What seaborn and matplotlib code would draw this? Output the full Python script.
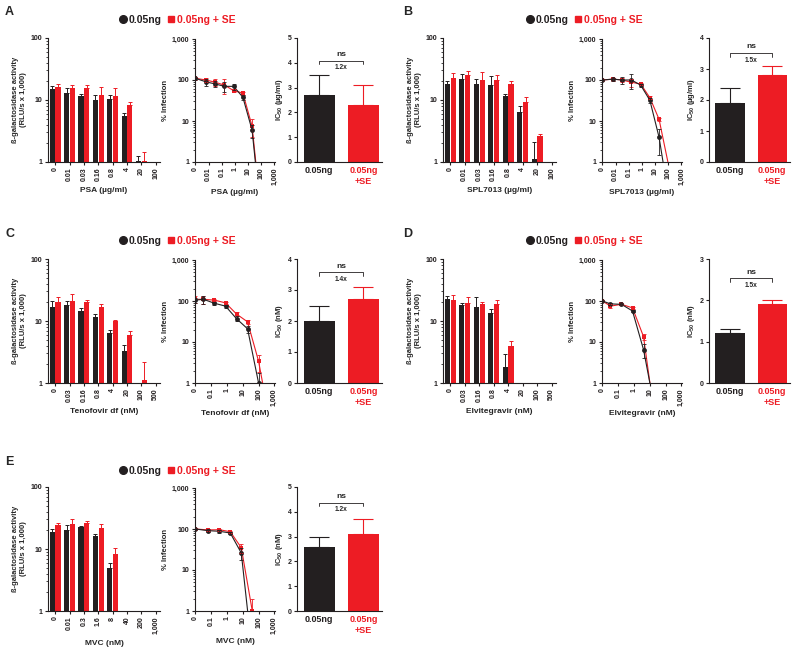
# HIV inhibitor dose-response with / without SE (5 drugs)

import numpy as np
import pandas as pd
import seaborn as sns
import matplotlib.pyplot as plt
from matplotlib.lines import Line2D
from matplotlib.ticker import LogLocator, NullFormatter

nan = np.nan
BLACK = '#231f20'
RED = '#ed1c24'
GROUPS = ['0.05ng', '0.05ng + SE']

# ---- A: PSA ----
psa_cats = ['0', '0.01', '0.03', '0.16', '0.8', '4', '20', '100']
psa_rlu_blk = [15, 13, 11.5, 10, 10.5, 5.5, 1.02, nan]
psa_rlu_blk_err = [2, 2.5, 1, 2, 1.5, 0.6, 0.23, nan]
psa_rlu_red = [16, 15.5, 15.5, 12, 11.5, 8.2, 1.05, nan]
psa_rlu_red_err = [2, 2, 2, 4.5, 4, 1.1, 0.4, nan]
psa_doses = [0, 0.0064, 0.032, 0.16, 0.8, 4, 20, 100]
psa_inf_blk = [110, 90, 80, 70, 70, 38, 6, 0.04]
psa_inf_blk_err = [10, 18, 12, 18, 12, 5, 2.2, 0]
psa_inf_red = [110, 100, 88, 75, 55, 48, 7.5, 0.05]
psa_inf_red_err = [8, 10, 15, 30, 5, 4, 3.5, 0]
psa_ic50 = [2.7, 2.3]
psa_ic50_err = [0.8, 0.8]

# ---- B: SPL7013 ----
spl_cats = ['0', '0.01', '0.03', '0.16', '0.8', '4', '20', '100']
spl_rlu_blk = [18, 22, 18, 17.5, 11.5, 6.3, 1.1, nan]
spl_rlu_blk_err = [2, 4, 4, 7, 1, 1.7, 1.0, nan]
spl_rlu_red = [23, 25, 21, 21, 18, 9.3, 2.6, nan]
spl_rlu_red_err = [4, 4, 7, 4, 2, 1.7, 0.2, nan]
spl_doses = [0, 0.0064, 0.032, 0.16, 0.8, 4, 20, 100]
spl_inf_blk = [100, 105, 100, 100, 75, 32, 4, 0.16]
spl_inf_blk_err = [8, 10, 20, 40, 6, 5, 2.5, 0]
spl_inf_red = [100, 105, 100, 88, 80, 37, 11, 0.9]
spl_inf_red_err = [6, 8, 12, 20, 5, 3, 1, 0]
spl_ic50 = [1.9, 2.8]
spl_ic50_err = [0.5, 0.3]

# ---- C: Tenofovir df ----
tdf_cats = ['0', '0.03', '0.16', '0.8', '4', '20', '100', '500']
tdf_rlu_blk = [17, 18, 14.5, 11.5, 6.3, 3.3, nan, nan]
tdf_rlu_blk_err = [4, 3, 1.5, 1.5, 0.9, 0.8, nan, nan]
tdf_rlu_red = [20, 21, 20.5, 17, 10, 6, 1.1, nan]
tdf_rlu_red_err = [4, 6, 1, 2, 0.5, 0.8, 1.1, nan]
tdf_doses = [0, 0.032, 0.16, 0.8, 4, 20, 100, 500]
tdf_inf_blk = [105, 110, 88, 75, 37, 21, 1.0, 0.05]
tdf_inf_blk_err = [15, 25, 8, 6, 5, 4, 0.8, 0]
tdf_inf_red = [110, 110, 105, 90, 48, 31, 3.4, 0.12]
tdf_inf_red_err = [20, 25, 6, 6, 5, 4, 1.5, 0]
tdf_ic50 = [2.0, 2.7]
tdf_ic50_err = [0.5, 0.4]

# ---- D: Elvitegravir ----
evg_cats = ['0', '0.03', '0.16', '0.8', '4', '20', '100', '500']
evg_rlu_blk = [23, 18, 17, 13.5, 1.8, nan, nan, nan]
evg_rlu_blk_err = [2, 1.5, 7, 2, 1.1, nan, nan, nan]
evg_rlu_red = [22, 19.5, 19, 18.5, 4, nan, nan, nan]
evg_rlu_red_err = [4, 4.5, 1, 3.5, 0.7, nan, nan, nan]
evg_doses = [0, 0.032, 0.16, 0.8, 4, 20, 100, 500]
evg_inf_blk = [100, 85, 83, 57, 6.5, 0.25, nan, nan]
evg_inf_blk_err = [5, 5, 4, 4, 2.5, 0, nan, nan]
evg_inf_red = [100, 75, 83, 68, 13.5, 0.15, nan, nan]
evg_inf_red_err = [5, 8, 5, 5, 2, 0, nan, nan]
evg_ic50 = [1.2, 1.9]
evg_ic50_err = [0.1, 0.1]

# ---- E: MVC ----
mvc_cats = ['0', '0.01', '0.3', '1.6', '8', '40', '200', '1,000']
mvc_rlu_blk = [19, 20, 22.5, 16, 5, nan, nan, nan]
mvc_rlu_blk_err = [2, 4, 1, 1.5, 1, nan, nan, nan]
mvc_rlu_red = [24, 25, 26, 22, 8.2, nan, nan, nan]
mvc_rlu_red_err = [2, 6, 2.5, 3, 2.3, nan, nan, nan]
mvc_doses = [0, 0.064, 0.32, 1.6, 8, 40, 200, 1000]
mvc_inf_blk = [100, 91, 88, 80, 26, 0.09, nan, nan]
mvc_inf_blk_err = [5, 8, 6, 5, 8, 0, nan, nan]
mvc_inf_red = [100, 95, 96, 86, 35, 1.0, nan, nan]
mvc_inf_red_err = [5, 6, 6, 5, 9, 1.0, nan, nan]
mvc_ic50 = [2.6, 3.1]
mvc_ic50_err = [0.4, 0.6]

ic50_labels = ['0.05ng', '0.05ng\n+SE']

# スタイル
sns.set_style('ticks')
plt.rcParams['font.family'] = ['Liberation Sans', 'DejaVu Sans']
plt.rcParams['font.weight'] = 'bold'
plt.rcParams['axes.labelweight'] = 'bold'
plt.rcParams['mathtext.fontset'] = 'custom'
plt.rcParams['mathtext.rm'] = 'Liberation Sans:bold'
plt.rcParams['mathtext.bf'] = 'Liberation Sans:bold'
plt.rcParams['axes.linewidth'] = 0.8
plt.rcParams['axes.edgecolor'] = BLACK

W, H = 800, 650
fig = plt.figure(figsize=(8, 6.5), dpi=100)


def px_axes(x, y, w, h):
    return fig.add_axes([x / W, 1 - (y + h) / H, w / W, h / H])


def style_ticks(ax, size=5):
    ax.tick_params(axis='both', which='major', length=2.5, width=0.8, labelsize=size, pad=1.5, colors=BLACK)
    ax.tick_params(axis='both', which='minor', length=1.5, width=0.6)
    sns.despine(ax=ax)


def draw_bars(ax, cats, blk, blk_err, red, red_err, xlabel):
    n = len(cats)
    df = pd.DataFrame({'dose': cats * 2,
                       'group': [GROUPS[0]] * n + [GROUPS[1]] * n,
                       'rlu': blk + red})
    sns.barplot(data=df, x='dose', y='rlu', hue='group', order=cats, hue_order=GROUPS,
                palette=[BLACK, RED], saturation=1, width=0.8, gap=0.1,
                errorbar=None, legend=False, linewidth=0, ax=ax)
    errs = [blk_err, red_err]
    for cont, err, col in zip(ax.containers, errs, [BLACK, RED]):
        for bar in cont:
            h = bar.get_height()
            if np.isnan(h):
                continue
            cx = bar.get_x() + bar.get_width() / 2
            i = int(round(cx))
            ax.errorbar(cx, h, yerr=[[0], [err[i]]], fmt='none', ecolor=col,
                        elinewidth=0.7, capsize=1.2, capthick=0.7)
    ax.set_yscale('log')
    ax.set_ylim(1, 100)
    ax.set_yticks([1, 10, 100])
    ax.set_yticklabels(['1', '10', '100'])
    ax.yaxis.set_minor_locator(LogLocator(subs=np.arange(2, 10)))
    ax.yaxis.set_minor_formatter(NullFormatter())
    ax.set_xlim(-0.5, 7.3)
    ax.set_xticks(range(n))
    ax.set_xticklabels(cats, rotation=90)
    ax.set_xlabel(xlabel, fontsize=6, labelpad=4)
    ax.set_ylabel('ß-galactosidase activity\n(RLU/s x 1,000)', fontsize=5.5, labelpad=3)
    style_ticks(ax)


def draw_curve(ax, doses, zero_pos, blk, blk_err, red, red_err, xticks, xlabels, xlabel):
    xs = [zero_pos if d == 0 else d for d in doses]
    n = len(xs)
    df = pd.DataFrame({'dose': xs * 2,
                       'group': [GROUPS[0]] * n + [GROUPS[1]] * n,
                       'inf': blk + red})
    sns.lineplot(data=df, x='dose', y='inf', hue='group', style='group',
                 hue_order=[GROUPS[1], GROUPS[0]],
                 palette={GROUPS[0]: BLACK, GROUPS[1]: RED},
                 markers={GROUPS[0]: 'o', GROUPS[1]: 's'}, dashes=False,
                 markersize=3.5, markeredgewidth=0, linewidth=0.8,
                 errorbar=None, legend=False, ax=ax)
    for vals, err, col in [(red, red_err, RED), (blk, blk_err, BLACK)]:
        ax.errorbar(xs, vals, yerr=err, fmt='none', ecolor=col,
                    elinewidth=0.6, capsize=1.3, capthick=0.6)
    ax.set_xscale('log')
    ax.set_yscale('log')
    ax.set_xlim(zero_pos * 0.93, 1100)
    ax.set_ylim(1, 1000)
    ax.set_xticks(xticks)
    ax.set_xticklabels(xlabels, rotation=90)
    ax.xaxis.set_minor_locator(LogLocator(subs=np.arange(2, 10)))
    ax.xaxis.set_minor_formatter(NullFormatter())
    ax.set_yticks([1, 10, 100, 1000])
    ax.set_yticklabels(['1', '10', '100', '1,000'])
    ax.yaxis.set_minor_formatter(NullFormatter())
    ax.set_xlabel(xlabel, fontsize=6, labelpad=3)
    ax.set_ylabel('% Infection', fontsize=5.5, labelpad=2)
    style_ticks(ax)


def draw_ic50(ax, vals, errs, ymax, unit, fold, bracket_y):
    sns.barplot(x=ic50_labels, y=vals, hue=ic50_labels, palette=[BLACK, RED],
                saturation=1, width=0.7, linewidth=0, legend=False, ax=ax)
    for i, (v, e, c) in enumerate(zip(vals, errs, [BLACK, RED])):
        ax.errorbar(i, v, yerr=[[0], [e]], fmt='none', ecolor=c,
                    elinewidth=0.8, capsize=7, capthick=0.8)
    ax.set_ylim(0, ymax)
    ax.set_yticks(range(ymax + 1))
    ax.set_xlim(-0.5, 1.42)
    ax.set_ylabel('IC$_{50}$ (' + unit + ')', fontsize=5.5, labelpad=2)
    style_ticks(ax)
    ax.tick_params(axis='x', labelsize=6.5, length=0, pad=3)
    ax.get_xticklabels()[1].set_color(RED)
    d = ymax * 0.03
    ax.plot([0, 0, 1, 1], [bracket_y - d, bracket_y, bracket_y, bracket_y - d],
            color=BLACK, lw=0.6)
    ax.text(0.5, bracket_y + ymax * 0.02, 'ns', ha='center', va='bottom', fontsize=6)
    ax.text(0.5, bracket_y - ymax * 0.03, fold, ha='center', va='top', fontsize=4.8)


ticks_a = [0.001, 0.01, 0.1, 1, 10, 100, 1000]
labels_a = ['0', '0.01', '0.1', '1', '10', '100', '1,000']
ticks_c = [0.01, 0.1, 1, 10, 100, 1000]
labels_c = ['0', '0.1', '1', '10', '100', '1,000']

panels = [
    dict(letter='A', col=0, row=0, cats=psa_cats,
         rlu=(psa_rlu_blk, psa_rlu_blk_err, psa_rlu_red, psa_rlu_red_err),
         doses=psa_doses, zero=0.001,
         inf=(psa_inf_blk, psa_inf_blk_err, psa_inf_red, psa_inf_red_err),
         ticks=(ticks_a, labels_a), xlabel='PSA (µg/ml)',
         ic=(psa_ic50, psa_ic50_err), ymax=5, unit='µg/ml', fold='1.2x', by=4.09),
    dict(letter='B', col=1, row=0, cats=spl_cats,
         rlu=(spl_rlu_blk, spl_rlu_blk_err, spl_rlu_red, spl_rlu_red_err),
         doses=spl_doses, zero=0.001,
         inf=(spl_inf_blk, spl_inf_blk_err, spl_inf_red, spl_inf_red_err),
         ticks=(ticks_a, labels_a), xlabel='SPL7013 (µg/ml)',
         ic=(spl_ic50, spl_ic50_err), ymax=4, unit='µg/ml', fold='1.5x', by=3.52),
    dict(letter='C', col=0, row=1, cats=tdf_cats,
         rlu=(tdf_rlu_blk, tdf_rlu_blk_err, tdf_rlu_red, tdf_rlu_red_err),
         doses=tdf_doses, zero=0.01,
         inf=(tdf_inf_blk, tdf_inf_blk_err, tdf_inf_red, tdf_inf_red_err),
         ticks=(ticks_c, labels_c), xlabel='Tenofovir df (nM)',
         ic=(tdf_ic50, tdf_ic50_err), ymax=4, unit='nM', fold='1.4x', by=3.57),
    dict(letter='D', col=1, row=1, cats=evg_cats,
         rlu=(evg_rlu_blk, evg_rlu_blk_err, evg_rlu_red, evg_rlu_red_err),
         doses=evg_doses, zero=0.01,
         inf=(evg_inf_blk, evg_inf_blk_err, evg_inf_red, evg_inf_red_err),
         ticks=(ticks_c, labels_c), xlabel='Elvitegravir (nM)',
         ic=(evg_ic50, evg_ic50_err), ymax=3, unit='nM', fold='1.5x', by=2.53),
    dict(letter='E', col=0, row=2, cats=mvc_cats,
         rlu=(mvc_rlu_blk, mvc_rlu_blk_err, mvc_rlu_red, mvc_rlu_red_err),
         doses=mvc_doses, zero=0.01,
         inf=(mvc_inf_blk, mvc_inf_blk_err, mvc_inf_red, mvc_inf_red_err),
         ticks=(ticks_c, labels_c), xlabel='MVC (nM)',
         ic=(mvc_ic50, mvc_ic50_err), ymax=5, unit='nM', fold='1.2x', by=4.37),
]

# ピクセル位置 (左列, 右列)
col_x = [dict(bar=(48, 112), line=(195, 80), ic=(297, 85), letter=5, legend=177),
         dict(bar=(443, 113), line=(602, 80), ic=(709, 81), letter=403, legend=584)]
row_y = [38, 259, 487]
row_letter_y = [12, 234, 462]
row_legend_y = [20, 241, 471]
AX_H = 124

for p in panels:
    cx = col_x[p['col']]
    top = row_y[p['row']]

    ax1 = px_axes(cx['bar'][0], top, cx['bar'][1], AX_H)
    draw_bars(ax1, p['cats'], *p['rlu'], p['xlabel'])

    ax2 = px_axes(cx['line'][0], top + 1, cx['line'][1], AX_H - 1)
    draw_curve(ax2, p['doses'], p['zero'], *p['inf'], *p['ticks'], p['xlabel'])

    ax3 = px_axes(cx['ic'][0], top, cx['ic'][1], AX_H)
    draw_ic50(ax3, *p['ic'], p['ymax'], p['unit'], p['fold'], p['by'])

    fig.text(cx['letter'] / W, 1 - row_letter_y[p['row']] / H, p['letter'],
             fontsize=9, fontweight='bold', va='center', ha='left')

    handles = [Line2D([], [], marker='o', color=BLACK, linestyle='None', markersize=5.5),
               Line2D([], [], marker='s', color=RED, linestyle='None', markersize=5)]
    fig.legend(handles, GROUPS, loc='center',
               bbox_to_anchor=(cx['legend'] / W, 1 - row_legend_y[p['row']] / H),
               ncol=2, frameon=False, labelcolor=[BLACK, RED],
               prop={'weight': 'bold', 'size': 7.5}, handletextpad=0.05,
               columnspacing=0.4, handlelength=1.0, borderpad=0)

fig.savefig('out.png', dpi=100)
